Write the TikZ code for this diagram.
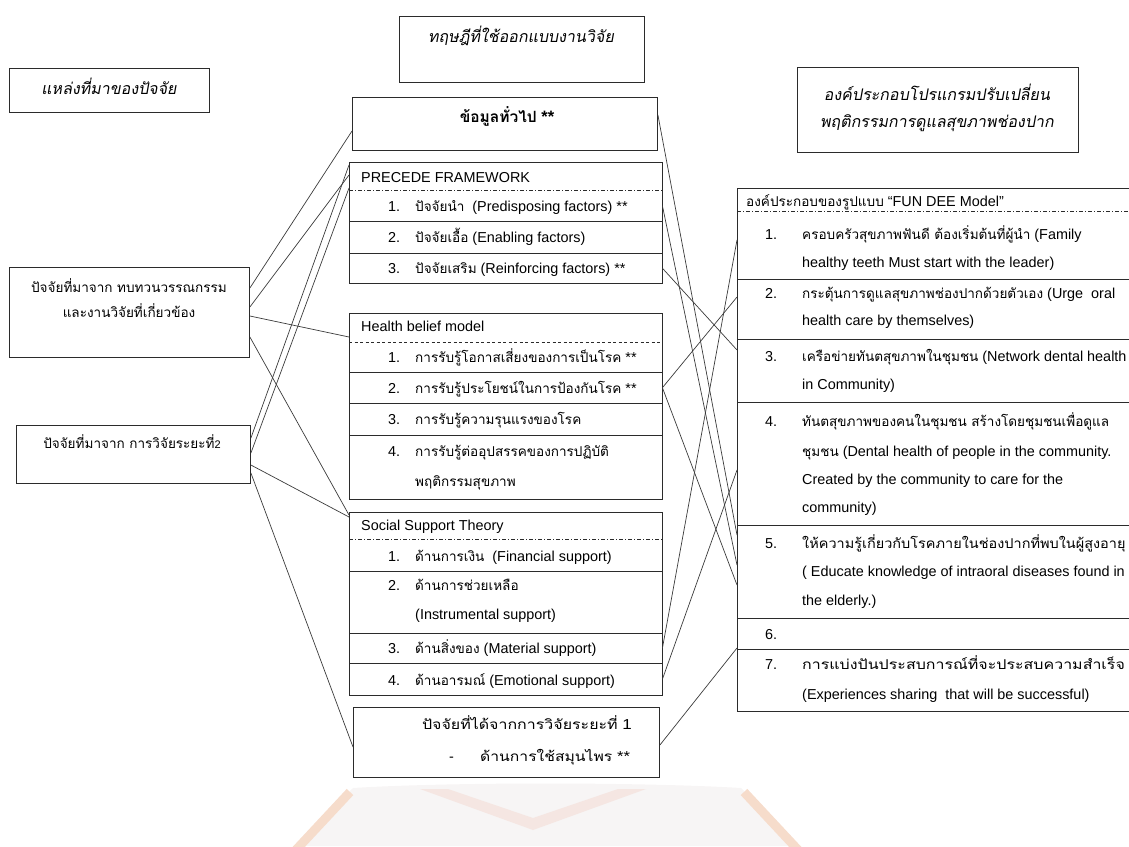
\documentclass[tikz,border=0pt]{standalone}
\usepackage{fontspec}
\usepackage{graphicx}
\usetikzlibrary{calc}
\setmainfont{Liberation Sans}
\newfontfamily\thaifont[Script=Thai,Scale=0.94]{Loma}
\newfontfamily\thaiit[Script=Thai,FakeSlant=0.18]{Loma}
\newcommand\tx[1]{{\thaifont #1}}
\newcommand\wide[2]{\scalebox{#1}[1]{#2}}
\definecolor{boxc}{HTML}{2B2B2B}
\definecolor{linkc}{HTML}{3A3A3A}
\definecolor{wmbase}{HTML}{F7F5F5}
\definecolor{wmband}{HTML}{F6DCCB}
\definecolor{wmmark}{HTML}{F5E6E2}
\begin{document}
\begin{tikzpicture}[x=1pt,y=-1pt,
  box/.style={draw=boxc, line width=0.9pt, inner sep=0pt, anchor=north west},
  row/.style={inner sep=0pt, anchor=north west},
  txt/.style={inner sep=0pt, anchor=base west, font=\fontsize{14.4}{17}\selectfont},
  ctxt/.style={txt, anchor=base},
  head/.style={inner sep=0pt, anchor=base, font=\fontsize{16}{19}\selectfont\thaiit},
  sep/.style={draw=boxc, line width=0.8pt},
  dashsep/.style={draw=boxc, line width=0.8pt, dash pattern=on 4pt off 2pt on 1pt off 2pt},
  dashsepb/.style={draw=boxc, line width=0.8pt, dash pattern=on 3pt off 2.5pt},
  link/.style={draw=linkc, line width=0.7pt}]
\useasboundingbox (0,0) rectangle (1129,846);
\clip (0,0) rectangle (1129,846);

% ---------- faint emblem printed behind the page foot ----------
\fill[wmbase] (353,788) .. controls (450,782) and (640,782) .. (741,788) -- (800,846) -- (294,846) -- cycle;
\draw[wmband, line width=9pt] (350,792) -- (294,852);
\draw[wmband, line width=9pt] (744,792) -- (800,852);
\fill[wmmark] (420,789) -- (533,830) -- (646,789) -- (618,789) -- (533,818) -- (448,789) -- cycle;

% ---------- left column: sources ----------
\node[box, minimum width=200pt, minimum height=44pt] (src) at (9,68) {};
\node[head] (srct) at (109,94) {แหล่งที่มาของปัจจัย};

\node[box, minimum width=240pt, minimum height=90pt] (lit) at (9,267) {};
\node[ctxt] (litt1) at (129,292) {\tx{ปัจจัยที่มาจาก ทบทวนวรรณกรรม}};
\node[ctxt] (litt2) at (129,317) {\tx{และงานวิจัยที่เกี่ยวข้อง}};

\node[box, minimum width=234pt, minimum height=58pt] (ph2) at (16,425) {};
\node[ctxt] (ph2t) at (132,448) {\tx{ปัจจัยที่มาจาก การวิจัยระยะที่}{\fontsize{11}{13}\selectfont 2}};

% ---------- middle column: theories ----------
\node[box, minimum width=245pt, minimum height=66pt] (theory) at (399,16) {};
\node[head] (theoryt) at (521,42) {ทฤษฎีที่ใช้ออกแบบงานวิจัย};

\node[box, minimum width=305pt, minimum height=53pt] (gen) at (352,97) {};
\node[ctxt, font=\fontsize{16.5}{19}\selectfont\bfseries] (gent) at (507,122) {{\thaifont ข้อมูลทั่วไป} **};

% PRECEDE framework
\node[box, minimum width=313pt, minimum height=121pt] (pre) at (349,162) {};
\node[row, minimum width=313pt, minimum height=28pt] (pre0) at (349,162) {};
\node[row, minimum width=313pt, minimum height=31pt] (pre1) at (349,190) {};
\node[row, minimum width=313pt, minimum height=32pt] (pre2) at (349,221) {};
\node[row, minimum width=313pt, minimum height=30pt] (pre3) at (349,253) {};
\draw[dashsep] (pre1.north west) -- (pre1.north east);
\draw[sep] (pre2.north west) -- (pre2.north east);
\draw[sep] (pre3.north west) -- (pre3.north east);
\node[txt] (pre0t) at (361,182) {PRECEDE FRAMEWORK};
\node[txt] (pre1n) at (388,211) {1.};
\node[txt] (pre1t) at (415,211) {\tx{ปัจจัยนำ}\ \ (Predisposing factors) **};
\node[txt] (pre2n) at (388,242) {2.};
\node[txt] (pre2t) at (415,242) {\tx{ปัจจัยเอื้อ} (Enabling factors)};
\node[txt] (pre3n) at (388,273) {3.};
\node[txt] (pre3t) at (415,273) {\tx{ปัจจัยเสริม} (Reinforcing factors) **};

% Health belief model
\node[box, minimum width=313pt, minimum height=186pt] (hbm) at (349,313) {};
\node[row, minimum width=313pt, minimum height=29pt] (hbm0) at (349,313) {};
\node[row, minimum width=313pt, minimum height=30pt] (hbm1) at (349,342) {};
\node[row, minimum width=313pt, minimum height=31pt] (hbm2) at (349,372) {};
\node[row, minimum width=313pt, minimum height=32pt] (hbm3) at (349,403) {};
\node[row, minimum width=313pt, minimum height=64pt] (hbm4) at (349,435) {};
\draw[dashsepb] (hbm1.north west) -- (hbm1.north east);
\draw[sep] (hbm2.north west) -- (hbm2.north east);
\draw[sep] (hbm3.north west) -- (hbm3.north east);
\draw[sep] (hbm4.north west) -- (hbm4.north east);
\node[txt] (hbm0t) at (361,331) {Health belief model};
\node[txt] (hbm1n) at (388,362) {1.};
\node[txt] (hbm1t) at (415,362) {\tx{การรับรู้โอกาสเสี่ยงของการเป็นโรค} **};
\node[txt] (hbm2n) at (388,393) {2.};
\node[txt] (hbm2t) at (415,393) {\tx{การรับรู้ประโยชน์ในการป้องกันโรค} **};
\node[txt] (hbm3n) at (388,424) {3.};
\node[txt] (hbm3t) at (415,424) {\tx{การรับรู้ความรุนแรงของโรค}};
\node[txt] (hbm4n) at (388,456) {4.};
\node[txt] (hbm4t) at (415,456) {\tx{การรับรู้ต่ออุปสรรคของการปฏิบัติ}};
\node[txt] (hbm4u) at (415,486) {\tx{พฤติกรรมสุขภาพ}};

% Social support theory
\node[box, minimum width=313pt, minimum height=183pt] (sst) at (349,512) {};
\node[row, minimum width=313pt, minimum height=27pt] (sst0) at (349,512) {};
\node[row, minimum width=313pt, minimum height=32pt] (sst1) at (349,539) {};
\node[row, minimum width=313pt, minimum height=62pt] (sst2) at (349,571) {};
\node[row, minimum width=313pt, minimum height=30pt] (sst3) at (349,633) {};
\node[row, minimum width=313pt, minimum height=32pt] (sst4) at (349,663) {};
\draw[dashsep] (sst1.north west) -- (sst1.north east);
\draw[sep] (sst2.north west) -- (sst2.north east);
\draw[sep] (sst3.north west) -- (sst3.north east);
\draw[sep] (sst4.north west) -- (sst4.north east);
\node[txt] (sst0t) at (361,530) {Social Support Theory};
\node[txt] (sst1n) at (388,561) {1.};
\node[txt] (sst1t) at (415,561) {\tx{ด้านการเงิน}\ \ (Financial support)};
\node[txt] (sst2n) at (388,590) {2.};
\node[txt] (sst2t) at (415,590) {\tx{ด้านการช่วยเหลือ}};
\node[txt] (sst2u) at (415,619) {(Instrumental support)};
\node[txt] (sst3n) at (388,653) {3.};
\node[txt] (sst3t) at (415,653) {\tx{ด้านสิ่งของ} (Material support)};
\node[txt] (sst4n) at (388,685) {4.};
\node[txt] (sst4t) at (415,685) {\tx{ด้านอารมณ์} (Emotional support)};

% factors from phase 1
\node[box, minimum width=306pt, minimum height=70pt] (ph1) at (353,707) {};
\node[ctxt] (ph1t) at (527,729) {\wide{1.18}{\tx{ปัจจัยที่ได้จากการวิจัยระยะที่} 1}};
\node[txt] (ph1d) at (449,761) {-};
\node[txt] (ph1u) at (480,761) {\wide{1.16}{\tx{ด้านการใช้สมุนไพร} **}};

% ---------- right column: program components ----------
\node[box, minimum width=281pt, minimum height=85pt] (prog) at (797,67) {};
\node[head] (progt1) at (937,100) {องค์ประกอบโปรแกรมปรับเปลี่ยน};
\node[head] (progt2) at (937,127) {พฤติกรรมการดูแลสุขภาพช่องปาก};

\node[box, minimum width=420pt, minimum height=523pt] (fd) at (737,188) {};
\node[row, minimum width=420pt, minimum height=23pt] (fd0) at (737,188) {};
\node[row, minimum width=420pt, minimum height=68pt] (fd1) at (737,211) {};
\node[row, minimum width=420pt, minimum height=60pt] (fd2) at (737,279) {};
\node[row, minimum width=420pt, minimum height=63pt] (fd3) at (737,339) {};
\node[row, minimum width=420pt, minimum height=123pt] (fd4) at (737,402) {};
\node[row, minimum width=420pt, minimum height=93pt] (fd5) at (737,525) {};
\node[row, minimum width=420pt, minimum height=31pt] (fd6) at (737,618) {};
\node[row, minimum width=420pt, minimum height=62pt] (fd7) at (737,649) {};
\draw[dashsep] (fd1.north west) -- (fd1.north east);
\foreach \r in {fd2,fd3,fd4,fd5,fd6,fd7} \draw[sep] (\r.north west) -- (\r.north east);
\node[txt] (fd0t) at (746,206) {\tx{องค์ประกอบของรูปแบบ} “FUN DEE Model”};
\node[txt] (fd1n) at (765,239) {1.};
\node[txt] (fd1t) at (802,239) {\tx{ครอบครัวสุขภาพฟันดี ต้องเริ่มต้นที่ผู้นำ} (Family};
\node[txt] (fd1u) at (802,267) {healthy teeth Must start with the leader)};
\node[txt] (fd2n) at (765,298) {2.};
\node[txt] (fd2t) at (802,298) {\tx{กระตุ้นการดูแลสุขภาพช่องปากด้วยตัวเอง} (Urge\ \ oral};
\node[txt] (fd2u) at (802,325) {health care by themselves)};
\node[txt] (fd3n) at (765,361) {3.};
\node[txt] (fd3t) at (802,361) {\tx{เครือข่ายทันตสุขภาพในชุมชน} (Network dental health};
\node[txt] (fd3u) at (802,389) {in Community)};
\node[txt] (fd4n) at (765,426) {4.};
\node[txt] (fd4t) at (802,426) {\tx{ทันตสุขภาพของคนในชุมชน สร้างโดยชุมชนเพื่อดูแล}};
\node[txt] (fd4u) at (802,456) {\tx{ชุมชน} (Dental health of people in the community.};
\node[txt] (fd4v) at (802,484) {Created by the community to care for the};
\node[txt] (fd4w) at (802,512) {community)};
\node[txt] (fd5n) at (765,548) {5.};
\node[txt] (fd5t) at (802,548) {\wide{1.07}{\tx{ให้ความรู้เกี่ยวกับโรคภายในช่องปากที่พบในผู้สูงอายุ}}};
\node[txt] (fd5u) at (802,576) {( Educate knowledge of intraoral diseases found in};
\node[txt] (fd5v) at (802,605) {the elderly.)};
\node[txt] (fd6n) at (765,639) {6.};
\node[txt] (fd7n) at (765,669) {7.};
\node[txt] (fd7t) at (802,669) {\wide{1.18}{\tx{การแบ่งปันประสบการณ์ที่จะประสบความสำเร็จ}}};
\node[txt] (fd7u) at (802,699) {(Experiences sharing\ \ that will be successful)};

% ---------- connectors: sources to theories ----------
\draw[link] ([yshift=-21pt]lit.north east) -- ([yshift=-34pt]gen.north west);
\draw[link] ([yshift=-40pt]lit.north east) -- ([yshift=-13pt]pre.north west);
\draw[link] ([yshift=-49pt]lit.north east) -- ([yshift=-24pt]hbm.north west);
\draw[link] ([yshift=-70pt]lit.north east) -- ([yshift=-3pt]sst.north west);
\draw[link] ([yshift=-13pt]ph2.north east) -- ([yshift=-3pt]pre.north west);
\draw[link] ([yshift=-28pt]ph2.north east) -- ([yshift=-26pt]pre.north west);
\draw[link] ([yshift=-40pt]ph2.north east) -- ([yshift=-5pt]sst.north west);
\draw[link] ([yshift=-48pt]ph2.north east) -- ([yshift=-40pt]ph1.north west);

% ---------- connectors: theories to program components ----------
\draw[link] ([yshift=-18pt]gen.north east) -- ([yshift=-347pt]fd.north west);
\draw[link] (pre1.east) -- ([yshift=-377pt]fd.north west);
\draw[link] (pre3.east) -- ([yshift=-162pt]fd.north west);
\draw[link] (hbm2.east) -- ([yshift=-109pt]fd.north west);
\draw[link] (hbm2.east) -- ([yshift=-397pt]fd.north west);
\draw[link] (sst3.east) -- ([yshift=-52pt]fd.north west);
\draw[link] (sst4.east) -- ([yshift=-282pt]fd.north west);
\draw[link] ([yshift=-38pt]ph1.north east) -- ([yshift=-460pt]fd.north west);
\end{tikzpicture}
\end{document}
